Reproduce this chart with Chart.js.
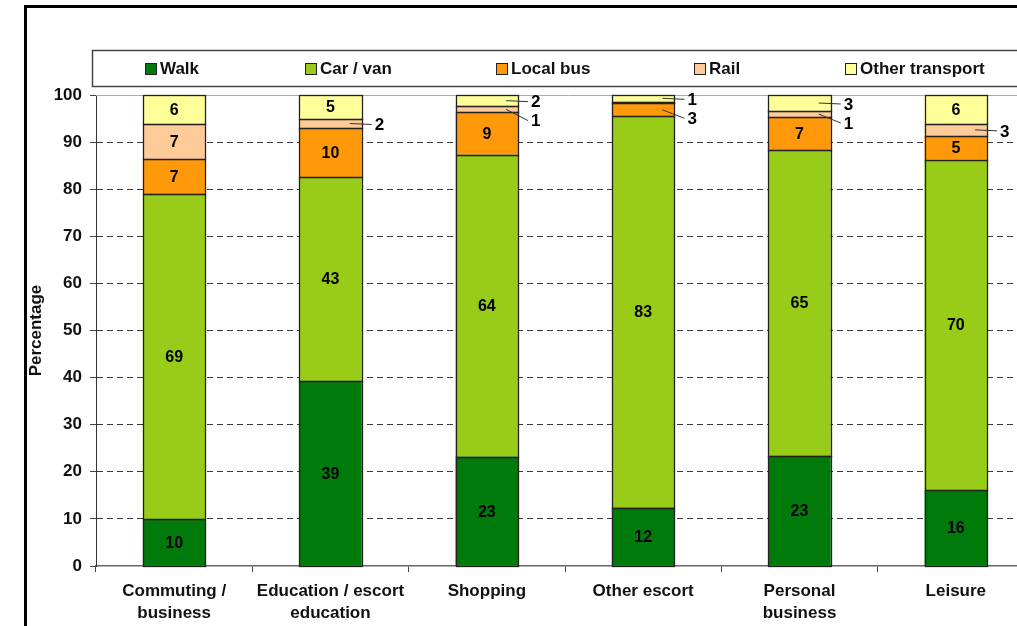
<!DOCTYPE html>
<html><head><meta charset="utf-8">
<script src="https://cdn.jsdelivr.net/npm/chart.js@4"></script>
<style>
html,body{margin:0;padding:0;background:#fff;overflow:hidden;width:1017px;height:626px}
#frame{position:absolute;left:24px;top:5px;width:1100px;height:700px;border-left:3px solid #000;border-top:3px solid #000;box-sizing:border-box}
#c{position:absolute;left:0;top:0}
</style></head><body>
<div id="frame"></div>
<canvas id="c" width="1040" height="626"></canvas>
<script>
const categories = [['Commuting /','business'],['Education / escort','education'],'Shopping','Other escort',['Personal','business'],'Leisure'];
const walk           = [9.9, 39.3, 23.2, 12.4, 23.4, 16.1];
const carVan         = [69.1, 43.3, 64.1, 83.1, 64.9, 70.2];
const localBus       = [7.4, 10.4, 9.0, 2.7, 7.0, 5.0];
const rail           = [7.4, 1.9, 1.3, 0.4, 1.3, 2.6];
const otherTransport = [6.2, 5.1, 2.4, 1.4, 3.4, 6.1];
const yTicks = [0,10,20,30,40,50,60,70,80,90,100];

const FONT = "'Liberation Sans', Arial, sans-serif";

const decor = {
  id: 'decor',
  beforeDraw(chart) {
    const ctx = chart.ctx;
    ctx.save();
    ctx.strokeStyle = '#444'; ctx.lineWidth = 1.5;
    ctx.strokeRect(92.5, 50.5, 1000, 36);
    const xs = [145, 305, 496, 694, 845];
    ctx.font = 'bold 17px ' + FONT;
    ctx.textBaseline = 'middle'; ctx.textAlign = 'left';
    chart.data.datasets.forEach((ds, i) => {
      ctx.fillStyle = ds.backgroundColor;
      ctx.fillRect(xs[i] + 0.5, 63.5, 11, 11);
      ctx.strokeStyle = '#222'; ctx.lineWidth = 1;
      ctx.strokeRect(xs[i] + 0.5, 63.5, 11, 11);
      ctx.fillStyle = '#111';
      ctx.fillText(ds.label, xs[i] + 15, 69);
    });
    ctx.restore();
  },
  beforeDatasetsDraw(chart) {
    const {ctx, chartArea: a, scales: {y}} = chart;
    const py = Math.round(y.getPixelForValue(100)) + 0.5;
    ctx.save();
    ctx.strokeStyle = '#aaa'; ctx.lineWidth = 1;
    ctx.beginPath(); ctx.moveTo(a.left, py); ctx.lineTo(a.right + 20, py); ctx.stroke();
    ctx.restore();
  },
  afterDatasetsDraw(chart) {
    const ctx = chart.ctx;
    const n = chart.data.labels.length;
    const dsCount = chart.data.datasets.length;
    ctx.save();
    for (let d = 0; d < dsCount; d++) {
      chart.getDatasetMeta(d).data.forEach(el => {
        const p = el.getProps(['x', 'y', 'base', 'width'], true);
        const l = Math.round(p.x - p.width / 2) + 0.5, r = Math.round(p.x + p.width / 2) + 0.5;
        const t = Math.round(p.y) + 0.5, b = Math.round(p.base) + 0.5;
        ctx.strokeStyle = '#222'; ctx.lineWidth = 1.3;
        ctx.strokeRect(l, t, r - l, b - t);
      });
    }
    ctx.fillStyle = '#000';
    for (let i = 0; i < n; i++) {
      let lastY = -Infinity;
      for (let d = dsCount - 1; d >= 0; d--) {
        const v = chart.data.datasets[d].data[i];
        const lbl = Math.round(v);
        if (!lbl) continue;
        const el = chart.getDatasetMeta(d).data[i];
        const p = el.getProps(['x', 'y', 'base', 'width'], true);
        const mid = (p.y + p.base) / 2;
        const right = p.x + p.width / 2;
        if (v >= 4) {
          ctx.font = 'bold 16px ' + FONT;
          ctx.textAlign = 'center'; ctx.textBaseline = 'middle';
          ctx.fillText(String(lbl), p.x, mid + 1);
        } else {
          const ly = Math.max(mid + 1, lastY + 19);
          lastY = ly;
          ctx.strokeStyle = '#333'; ctx.lineWidth = 1;
          ctx.beginPath(); ctx.moveTo(right - 12, mid); ctx.lineTo(right + 10, ly); ctx.stroke();
          ctx.font = 'bold 17px ' + FONT;
          ctx.textAlign = 'left'; ctx.textBaseline = 'middle';
          ctx.fillText(String(lbl), right + 13, ly + 1);
        }
      }
    }
    ctx.restore();
  }
};

const mk = (label, data, color) => ({
  label, data, backgroundColor: color, borderColor: '#222', borderWidth: 0, borderSkipped: false,
  categoryPercentage: 0.4, barPercentage: 1.0
});

new Chart(document.getElementById('c'), {
  type: 'bar',
  data: {
    labels: categories,
    datasets: [
      mk('Walk', walk, '#007A0B'),
      mk('Car / van', carVan, '#99CC18'),
      mk('Local bus', localBus, '#FF990A'),
      mk('Rail', rail, '#FFCC99'),
      mk('Other transport', otherTransport, '#FFFF99')
    ]
  },
  plugins: [decor],
  options: {
    responsive: false,
    animation: false,
    devicePixelRatio: 1,
    layout: { padding: { top: 95, left: 0, right: 6, bottom: 0 } },
    plugins: { legend: { display: false }, tooltip: { enabled: false } },
    scales: {
      x: {
        stacked: true,
        afterFit(s) { s.height = 60; },
        grid: { display: true, drawOnChartArea: false, drawTicks: true, tickLength: 6, tickColor: '#444', offset: true },
        border: { display: true, color: '#666', width: 1.5 },
        ticks: { color: '#111', padding: 9, maxRotation: 0, autoSkip: false,
          font: { family: FONT, size: 17, weight: 'bold', lineHeight: 1.25 } }
      },
      y: {
        stacked: true, min: 0, max: 100,
        afterFit(s) { s.width = 96; },
        afterBuildTicks(s) { s.ticks = yTicks.map(v => ({ value: v })); },
        grid: {
          color: c => (c.tick && (c.tick.value === 0 || c.tick.value === 100)) ? 'rgba(0,0,0,0)' : '#3a3a3a',
          lineWidth: 1, tickLength: 6, tickColor: '#444', drawTicks: true
        },
        border: { display: true, color: '#333', width: 1, dash: [6, 4] },
        ticks: { color: '#111', padding: 8, font: { family: FONT, size: 17, weight: 'bold' } },
        title: { display: true, text: 'Percentage', color: '#111', padding: { top: 26, bottom: 0 },
          font: { family: FONT, size: 17, weight: 'bold' } }
      }
    }
  }
});
</script>
</body></html>
